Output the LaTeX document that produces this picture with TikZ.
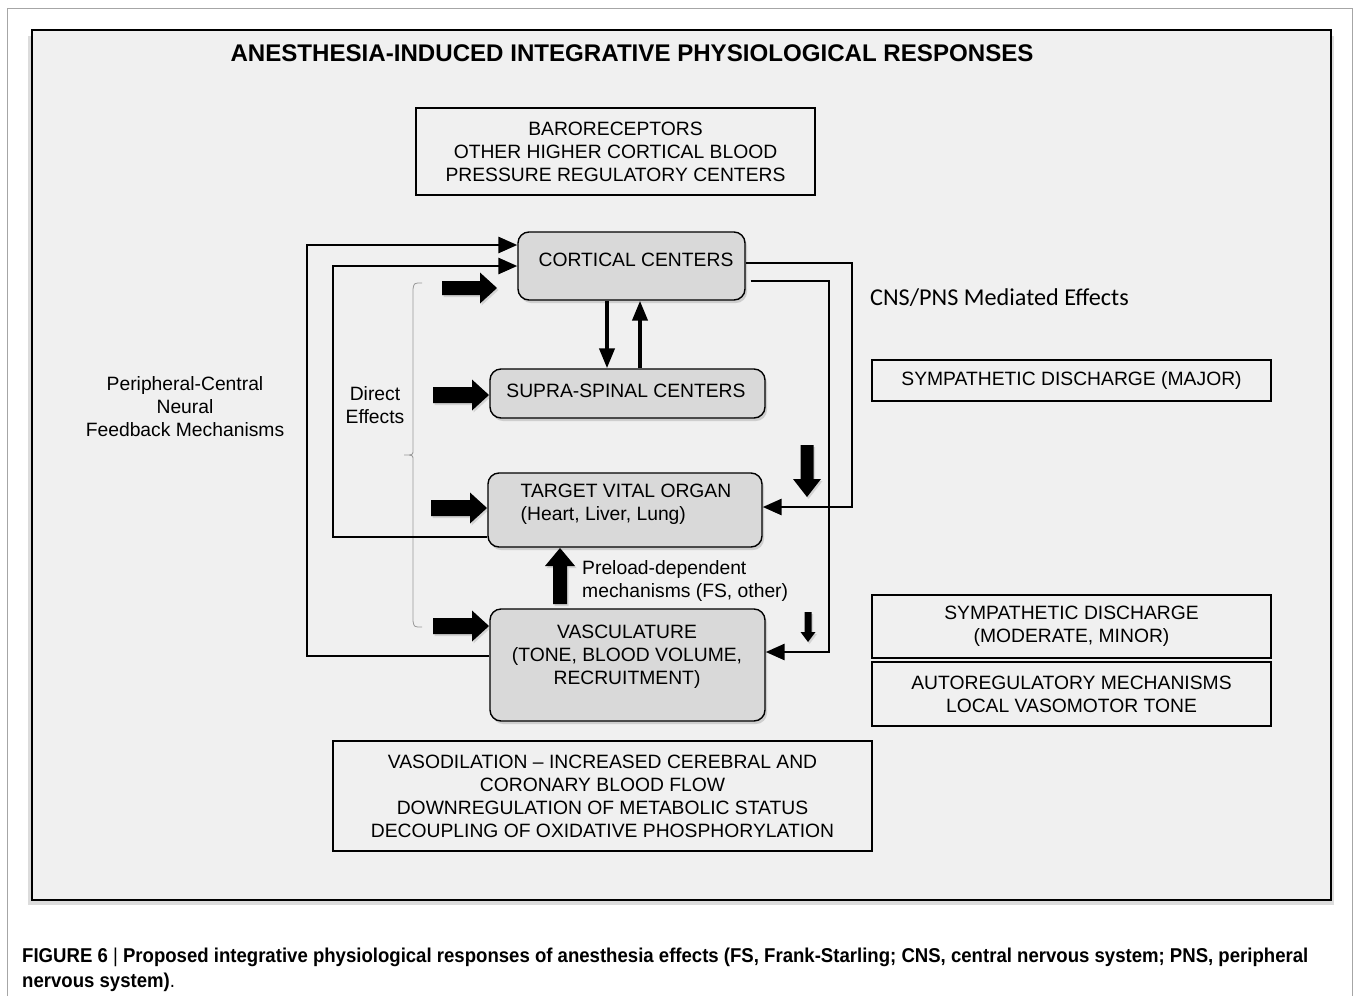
\documentclass[tikz,border=0pt]{standalone}
\usepackage{fontspec}
\setmainfont{Liberation Sans}
\newfontfamily\calib{Carlito}
\usetikzlibrary{arrows.meta,shadows,calc}
\definecolor{panel}{HTML}{F0F0F0}
\definecolor{boxfill}{HTML}{D9D9D9}
\newcommand{\blockarr}[7]{%
  \fill[black, drop shadow={shadow xshift=1.5pt,shadow yshift=-2pt,opacity=0.25}, shift={(#1,#2)}, rotate=#4]
    (0,-#5) -- ({#3-#7},-#5) -- ({#3-#7},-#6) -- (#3,0) -- ({#3-#7},#6) -- ({#3-#7},#5) -- (0,#5) -- cycle;}
\begin{document}
\begin{tikzpicture}[x=1pt,y=-1pt,
  every node/.style={inner sep=0pt, font=\fontsize{19.3}{23}\selectfont},
  rbox/.style={draw=black, line width=1.4pt, fill=boxfill, rounded corners=11pt,
    drop shadow={shadow xshift=2pt,shadow yshift=-3pt,opacity=0.3}},
  sbox/.style={draw=black, line width=1.3pt, fill=panel, align=center},
  txt/.style={align=center},
  fb/.style={line width=2.9pt, -{Triangle[length=19pt,width=16pt]}},
  vert/.style={line width=4pt, -{Triangle[length=20pt,width=15pt]}},
  brace/.style={draw=gray!80, line width=0.8pt},
]
\useasboundingbox (0,0) rectangle (1354,996);
\fill[white] (0,0) rectangle (1354,996);
% page frame
\draw[gray!70, line width=1pt] (7,996) -- (7,8) -- (1352,8) -- (1352,996);
% panel
\fill[gray!45, opacity=0.6] (28,36) rectangle (1334,905);
\draw[line width=2pt, fill=panel] (32,30) rectangle (1331,900);

% title
\node[font=\fontsize{24.1}{28}\selectfont\bfseries] (title) at (632,53) {ANESTHESIA-INDUCED INTEGRATIVE PHYSIOLOGICAL RESPONSES};

% plain boxes
\node[sbox, minimum width=399pt, minimum height=87pt] (baro) at (615.5,151.5)
  {BARORECEPTORS\\OTHER HIGHER CORTICAL BLOOD\\PRESSURE REGULATORY CENTERS};
\node[sbox, minimum width=539pt, minimum height=110pt] (outc) at (602.5,796)
  {VASODILATION -- INCREASED CEREBRAL AND\\CORONARY BLOOD FLOW\\DOWNREGULATION OF METABOLIC STATUS\\DECOUPLING OF OXIDATIVE PHOSPHORYLATION};
\node[sbox, minimum width=399pt, minimum height=41pt] (symmaj) at (1071.5,380.5)
  {SYMPATHETIC DISCHARGE (MAJOR)};
\node[sbox, minimum width=399pt, minimum height=63pt] (symmod) at (1071.5,626.5)
  {SYMPATHETIC DISCHARGE\\(MODERATE, MINOR)};
\node[sbox, minimum width=399pt, minimum height=64pt] (autoreg) at (1071.5,694)
  {AUTOREGULATORY MECHANISMS\\LOCAL VASOMOTOR TONE};

% rounded boxes
\node[rbox, minimum width=227pt, minimum height=68pt] (cort) at (631.5,266) {};
\node[txt] (cortT) at (636,260) {CORTICAL CENTERS};
\node[rbox, minimum width=275pt, minimum height=49pt] (supra) at (627.5,393.5) {};
\node[txt] (supraT) at (626,391) {SUPRA-SPINAL CENTERS};
\node[rbox, minimum width=274pt, minimum height=74pt] (organ) at (625,510) {};
\node[align=left] (organT) at (626,504) {TARGET VITAL ORGAN\\(Heart, Liver, Lung)};
\node[rbox, minimum width=275pt, minimum height=112pt] (vasc) at (627.5,665) {};
\node[txt] (vascT) at (627,657) {VASCULATURE\\(TONE, BLOOD VOLUME,\\RECRUITMENT)};

% free labels
\node[txt] (periph) at (185,407) {Peripheral-Central\\Neural\\Feedback Mechanisms};
\node[txt] (direct) at (375,405.5) {Direct\\Effects};
\node[anchor=west, font=\calib\fontsize{24.2}{28}\selectfont] (cns) at (870,298) {CNS/PNS Mediated Effects};
\node[align=left, anchor=west] (preload) at (582,580.5) {Preload-dependent\\mechanisms (FS, other)};

% brace
\draw[brace] (422,283) .. controls (414,283) .. (413,289) -- (413,450)
  .. controls (413,455) .. (404,455) .. controls (413,455) .. (413,460)
  -- (413,621) .. controls (414,627) .. (422,627);

% feedback loops
\draw[fb] (vasc.west |- 0,656) -- (307,656) -- (307,245) -- (cort.west |- 0,245);
\draw[fb] (organ.west |- 0,537) -- (333,537) -- (333,266) -- (cort.west |- 0,266);
\draw[fb] (cort.east |- 0,263) -- (852,263) -- (852,507) -- (organ.east |- 0,507);
\draw[fb] ($(cort.east |- 0,281)+(5,0)$) -- (829,281) -- (829,652) -- (vasc.east |- 0,652);

% cortical <-> supra
\draw[vert] (cort.south -| 607,0) -- (supra.north -| 607,0);
\draw[vert] (supra.north -| 640,0) -- (cort.south -| 640,0);

% block arrows (direct effects)
\blockarr{442}{288}{55}{0}{7}{15.5}{17}
\blockarr{433}{395}{56}{0}{8}{15.5}{17}
\blockarr{431}{508}{56}{0}{8}{15.5}{17}
\blockarr{433}{626}{56}{0}{8}{15.5}{17}
% preload arrow up
\blockarr{560}{604}{56}{90}{7}{15}{18}
% CNS/PNS down arrows
\blockarr{807}{445}{52}{-90}{6.5}{14}{18}
\blockarr{808}{612}{30}{-90}{3.5}{7.5}{10}

% caption
\node[anchor=base west, font=\fontsize{20}{24}\selectfont] (cap1) at (22,962)
  {\scalebox{0.929}[1]{\textbf{FIGURE 6} | \textbf{Proposed integrative physiological responses of anesthesia effects (FS, Frank-Starling; CNS, central nervous system; PNS, peripheral}}};
\node[anchor=base west, font=\fontsize{20}{24}\selectfont] (cap2) at (22,987)
  {\scalebox{0.929}[1]{\textbf{nervous system)}.}};
\end{tikzpicture}
\end{document}
